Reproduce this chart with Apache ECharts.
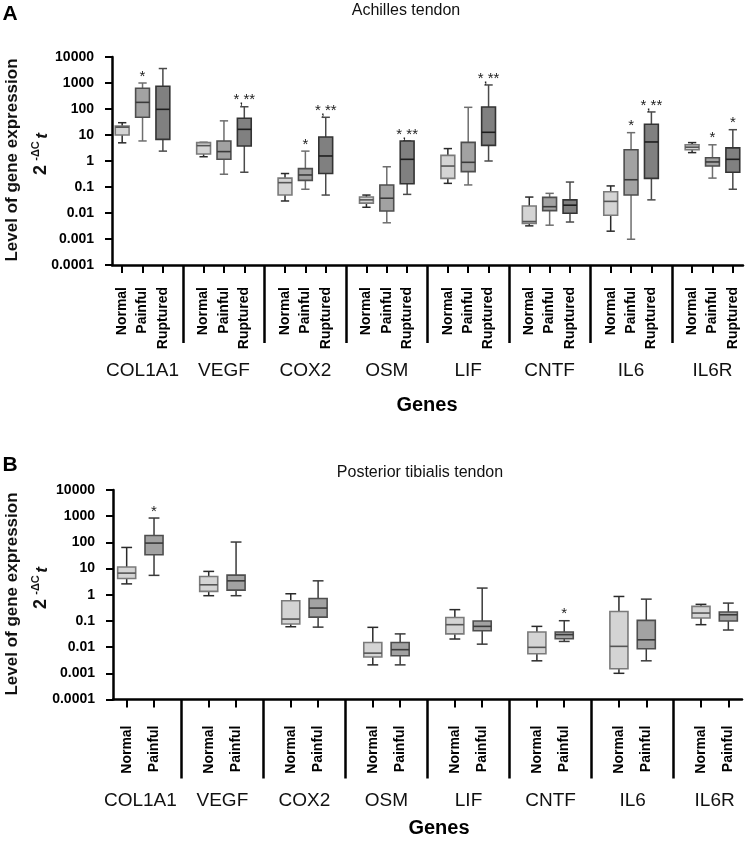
<!DOCTYPE html>
<html>
<head>
<meta charset="utf-8">
<script src="https://cdn.jsdelivr.net/npm/echarts@6/dist/echarts.min.js"></script>
<style>html,body{margin:0;padding:0;background:#fff;}#c{width:750px;height:844px;}</style>
</head>
<body>
<div id="c"></div>
<script>
// ---------------- DATA ----------------
const genes = ['COL1A1', 'VEGF', 'COX2', 'OSM', 'LIF', 'CNTF', 'IL6', 'IL6R'];
const achillesGroups = ['Normal', 'Painful', 'Ruptured'];
const tibialisGroups = ['Normal', 'Painful'];
const yTickLabels = ['0.0001', '0.001', '0.01', '0.1', '1', '10', '100', '1000', '10000'];

// each row: [min, q1, median, q3, max] per gene
const achillesNormal = [
  [5, 10, 20, 22, 29.7],
  [1.46, 1.86, 3.9, 5.1, 5.2],
  [0.029, 0.049, 0.147, 0.22, 0.33],
  [0.0166, 0.024, 0.032, 0.041, 0.049],
  [0.138, 0.215, 0.64, 1.65, 3.0],
  [0.0032, 0.004, 0.0047, 0.0186, 0.041],
  [0.002, 0.0082, 0.028, 0.066, 0.11],
  [2.1, 2.7, 3.4, 4.2, 5.1]
];
const achillesPainful = [
  [5.9, 48, 180, 630, 1000],
  [0.31, 1.16, 2.3, 5.9, 35],
  [0.082, 0.18, 0.29, 0.51, 2.4],
  [0.0042, 0.012, 0.037, 0.12, 0.6],
  [0.12, 0.39, 0.89, 5.2, 116],
  [0.0034, 0.0123, 0.0175, 0.04, 0.057],
  [0.00098, 0.049, 0.19, 2.7, 12.3],
  [0.22, 0.64, 0.92, 1.34, 4.2]
];
const achillesRuptured = [
  [2.4, 6.8, 97, 750, 3600],
  [0.37, 3.8, 16.5, 44, 122],
  [0.049, 0.33, 1.56, 8.4, 48],
  [0.052, 0.134, 1.16, 5.9, 5.9],
  [1.0, 4.0, 12.7, 120, 840],
  [0.0045, 0.0098, 0.02, 0.032, 0.155],
  [0.032, 0.215, 5.4, 26, 77],
  [0.082, 0.37, 1.16, 3.2, 16]
];
const achillesNormalStars = ['', '', '', '', '', '', '', ''];
const achillesPainfulStars = ['*', '', '*', '', '', '', '*', '*'];
const achillesRupturedStars = ['', '*,**', '*,**', '*,**', '*,**', '', '*,**', '*'];

const tibialisNormal = [
  [2.6, 4.2, 6.7, 11.4, 64],
  [0.92, 1.34, 2.4, 5.0, 7.8],
  [0.06, 0.076, 0.118, 0.59, 1.09],
  [0.0021, 0.0042, 0.0059, 0.015, 0.057],
  [0.0204, 0.032, 0.072, 0.136, 0.27],
  [0.003, 0.0056, 0.0098, 0.038, 0.062],
  [0.001, 0.0015, 0.0107, 0.23, 0.86],
  [0.072, 0.129, 0.2, 0.36, 0.43]
];
const tibialisPainful = [
  [5.5, 33.6, 94, 183, 850],
  [0.92, 1.5, 3.4, 5.6, 103],
  [0.058, 0.14, 0.31, 0.72, 3.4],
  [0.0021, 0.0047, 0.008, 0.015, 0.032],
  [0.013, 0.042, 0.062, 0.099, 1.8],
  [0.0165, 0.021, 0.03, 0.038, 0.102],
  [0.003, 0.0087, 0.019, 0.105, 0.68],
  [0.045, 0.099, 0.172, 0.22, 0.48]
];
const tibialisNormalStars = ['', '', '', '', '', '', '', ''];
const tibialisPainfulStars = ['*', '', '', '', '', '*', '', ''];

// ---------------- BUILD ----------------
const FONT = 'Liberation Sans, Arial, sans-serif';

function buildSlots(groups) {
  const slots = [];
  genes.forEach((g, k) => {
    groups.forEach(gr => slots.push(gr));
    if (k < genes.length - 1) slots.push('');
  });
  return slots;
}
const topSlots = buildSlots(achillesGroups);      // 31
const botSlots = buildSlots(tibialisGroups);      // 23
const topGeneSlots = topSlots.map((s, i) => (i % 4 === 1 ? genes[(i - 1) / 4] : ''));
const botGenePoints = [];
for (let i = 0; i <= botSlots.length; i++) botGenePoints.push(i % 3 === 1 ? genes[(i - 1) / 3] : '');

const styles = {
  Normal:   { fill: '#d4d4d4', stroke: '#7a7a7a', median: '#555', whisk: '#2a2a2a' },
  Painful:  { fill: '#a2a2a2', stroke: '#4e4e4e', median: '#3a3a3a', whisk: '#6e6e6e' },
  Ruptured: { fill: '#808080', stroke: '#333', median: '#1e1e1e', whisk: '#4a4a4a' }
};

function boxSeries(stats, stars, groupIdx, nGroups, xIdx, yIdx, st, ratio) {
  const data = stats.map((s, k) => [k * (nGroups + 1) + groupIdx].concat(s));
  return {
    type: 'custom',
    xAxisIndex: xIdx,
    yAxisIndex: yIdx,
    data: data,
    encode: { x: 0, y: [1, 2, 3, 4, 5] },
    clip: false,
    renderItem: function (params, api) {
      const i = api.value(0);
      const p = [1, 2, 3, 4, 5].map(d => api.coord([i, api.value(d)]));
      const cx = p[0][0];
      const band = api.coord([i + 1, api.value(3)])[0] - cx;
      const bw = band * ratio;
      const cw = bw * 0.3;
      const yMin = p[0][1], yQ1 = p[1][1], yMed = p[2][1], yQ3 = p[3][1], yMax = p[4][1];
      const ls = { stroke: st.whisk, lineWidth: 1.5 };
      const children = [
        { type: 'line', shape: { x1: cx, y1: yMax, x2: cx, y2: yQ3 }, style: ls },
        { type: 'line', shape: { x1: cx, y1: yQ1, x2: cx, y2: yMin }, style: ls },
        { type: 'line', shape: { x1: cx - cw, y1: yMax, x2: cx + cw, y2: yMax }, style: ls },
        { type: 'line', shape: { x1: cx - cw, y1: yMin, x2: cx + cw, y2: yMin }, style: ls },
        { type: 'rect', shape: { x: cx - bw / 2, y: yQ3, width: bw, height: Math.max(1, yQ1 - yQ3) },
          style: { fill: st.fill, stroke: st.stroke, lineWidth: 1.6 } },
        { type: 'line', shape: { x1: cx - bw / 2, y1: yMed, x2: cx + bw / 2, y2: yMed },
          style: { stroke: st.median, lineWidth: 1.6 } }
      ];
      const star = stars[params.dataIndex];
      if (star) {
        children.push({ type: 'text', style: { x: cx, y: yMax + 1, text: star, align: 'center',
          verticalAlign: 'bottom', font: '15px ' + FONT, fill: '#222' } });
      }
      return { type: 'group', children: children };
    }
  };
}

function yAxis(gridIndex) {
  return {
    type: 'log', gridIndex: gridIndex, logBase: 10, min: 0.0001, max: 10000, splitNumber: 8,
    axisLine: { show: true, lineStyle: { color: '#000', width: 2.5 } },
    axisTick: { show: true, length: 7, lineStyle: { color: '#000', width: 2 } },
    splitLine: { show: false },
    axisLabel: {
      margin: 18, color: '#000', fontWeight: 'bold', fontSize: 14, fontFamily: FONT,
      formatter: v => yTickLabels[Math.round(Math.log10(v)) + 4]
    }
  };
}

function slotAxis(gridIndex, slots, margin) {
  return {
    type: 'category', gridIndex: gridIndex, data: slots, boundaryGap: true, position: 'bottom',
    axisLine: { show: true, lineStyle: { color: '#000', width: 2.5 } },
    axisTick: { show: true, alignWithLabel: true, length: 8, interval: (i, v) => v !== '',
      lineStyle: { color: '#000', width: 2 } },
    axisLabel: { interval: 0, rotate: 90, margin: margin, color: '#000', fontWeight: 'bold',
      fontSize: 14, fontFamily: FONT }
  };
}
function sepAxis(gridIndex, slots, len) {
  return {
    type: 'category', gridIndex: gridIndex, data: slots, boundaryGap: true, position: 'bottom',
    axisLine: { show: false },
    axisTick: { show: true, alignWithLabel: true, length: len, interval: (i, v) => v === '',
      lineStyle: { color: '#000', width: 2.5 } },
    axisLabel: { show: false }
  };
}
function geneAxis(gridIndex, labels, boundaryGap, margin) {
  return {
    type: 'category', gridIndex: gridIndex, data: labels, boundaryGap: boundaryGap, position: 'bottom',
    axisLine: { show: false }, axisTick: { show: false },
    axisLabel: { interval: 0, margin: margin, color: '#111', fontSize: 19, fontFamily: FONT }
  };
}

function rotText(x, y, text, font) {
  return { type: 'text', x: x, y: y, rotation: Math.PI / 2,
    style: { text: text, font: font, fill: '#111', align: 'center', verticalAlign: 'middle' } };
}
function flatText(x, y, text, font, color) {
  return { type: 'text', x: x, y: y,
    style: { text: text, font: font, fill: color || '#111', align: 'center', verticalAlign: 'middle' } };
}
function yTitle(dy) {
  return [
    rotText(12, 160 + dy, 'Level of gene expression', 'bold 17px ' + FONT),
    rotText(41, 170 + dy, '2', 'bold 18px ' + FONT),
    rotText(35.5, 151 + dy, '-ΔC', 'bold 11px ' + FONT),
    rotText(42, 136 + dy, 't', 'italic bold 17px ' + FONT)
  ];
}

const option = {
  animation: false,
  backgroundColor: '#fff',
  grid: [
    { left: 112, right: 7, top: 57, height: 208 },
    { left: 113, right: 8, top: 490, height: 209.5 }
  ],
  xAxis: [
    slotAxis(0, topSlots, 22),
    sepAxis(0, topSlots, 78),
    geneAxis(0, topGeneSlots, true, 96),
    slotAxis(1, botSlots, 26),
    sepAxis(1, botSlots, 79),
    geneAxis(1, botGenePoints, false, 92)
  ],
  yAxis: [yAxis(0), yAxis(1)],
  series: [
    boxSeries(achillesNormal, achillesNormalStars, 0, 3, 0, 0, styles.Normal, 0.68),
    boxSeries(achillesPainful, achillesPainfulStars, 1, 3, 0, 0, styles.Painful, 0.68),
    boxSeries(achillesRuptured, achillesRupturedStars, 2, 3, 0, 0, styles.Ruptured, 0.68),
    boxSeries(tibialisNormal, tibialisNormalStars, 0, 2, 3, 1, styles.Normal, 0.66),
    boxSeries(tibialisPainful, tibialisPainfulStars, 1, 2, 3, 1, Object.assign({}, styles.Painful, { whisk: '#3a3a3a' }), 0.66)
  ],
  graphic: [
    flatText(10, 14, 'A', 'bold 21px ' + FONT, '#000'),
    flatText(10, 465, 'B', 'bold 21px ' + FONT, '#000'),
    flatText(406, 11, 'Achilles tendon', '16px ' + FONT),
    flatText(420, 473, 'Posterior tibialis tendon', '16px ' + FONT),
    flatText(427, 405, 'Genes', 'bold 20px ' + FONT, '#000'),
    flatText(439, 828, 'Genes', 'bold 20px ' + FONT, '#000')
  ].concat(yTitle(0), yTitle(434))
};

const chart = echarts.init(document.getElementById('c'), null, { renderer: 'canvas' });
chart.setOption(option);
</script>
</body>
</html>
